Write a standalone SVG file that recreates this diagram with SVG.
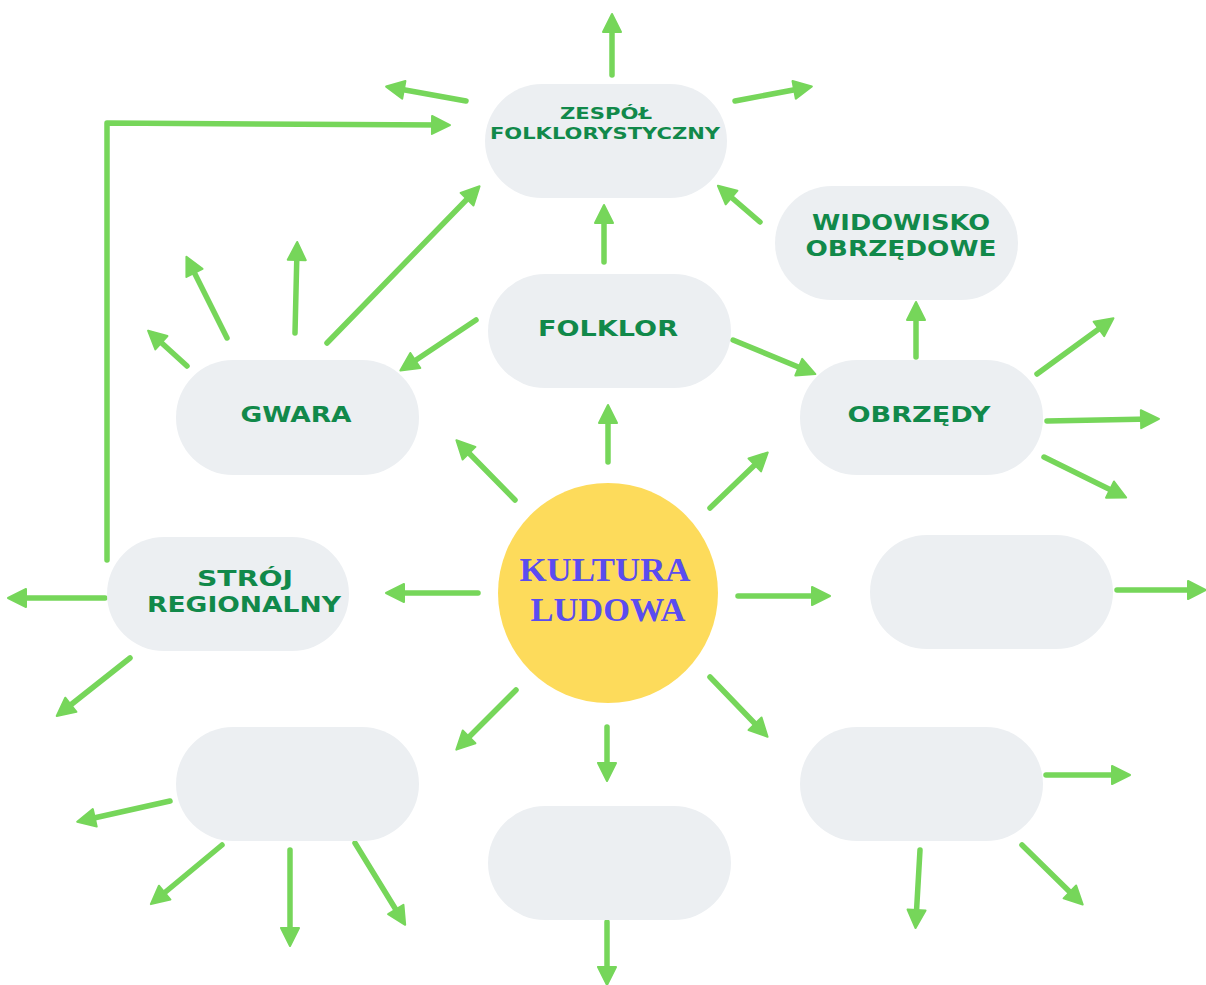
<svg xmlns="http://www.w3.org/2000/svg" width="1206" height="985" viewBox="0 0 1206 985">
<defs>
<marker id="ah" markerUnits="userSpaceOnUse" markerWidth="22" markerHeight="22" viewBox="-2 -2 22 22" refX="10" refY="9" orient="auto">
<path d="M0,0 L18,9 L0,18 Z" fill="#76d65a" stroke="#76d65a" stroke-width="2" stroke-linejoin="round"/>
</marker>
<style>
.pill{fill:#eceff2}
.lbl{font-family:"DejaVu Sans",sans-serif;font-weight:bold;fill:#11894a;text-anchor:middle}
.ctr{font-family:"Liberation Serif",serif;font-weight:bold;fill:#5a4cf0;text-anchor:middle;font-size:34px}
.c{stroke:#76d65a;stroke-width:5.5;fill:none;stroke-linecap:round;stroke-linejoin:round}
.a{marker-end:url(#ah)}
</style>
</defs>
<rect width="1206" height="985" fill="#ffffff"/>

<g id="connectors">
<line class="c a" x1="612" y1="75" x2="612" y2="22"/>
<line class="c a" x1="466" y1="101" x2="394" y2="88"/>
<line class="c a" x1="735" y1="101" x2="804" y2="88"/>
<polyline class="c a" points="107,560 107,123 442,125"/>
<line class="c a" x1="327" y1="343" x2="474" y2="192"/>
<line class="c a" x1="604" y1="262" x2="604" y2="213"/>
<line class="c a" x1="760" y1="222" x2="724" y2="191"/>
<line class="c a" x1="476" y1="320" x2="407" y2="366"/>
<line class="c a" x1="733" y1="340" x2="808" y2="371"/>
<line class="c a" x1="916" y1="357" x2="916" y2="310"/>
<line class="c a" x1="227" y1="338" x2="190" y2="264"/>
<line class="c a" x1="295" y1="333" x2="297" y2="250"/>
<line class="c a" x1="187" y1="366" x2="154" y2="336"/>
<line class="c a" x1="1037" y1="374" x2="1107" y2="323"/>
<line class="c a" x1="1047" y1="421" x2="1151" y2="419"/>
<line class="c a" x1="1044" y1="457" x2="1119" y2="494"/>
<line class="c a" x1="608" y1="462" x2="608" y2="413"/>
<line class="c a" x1="515" y1="500" x2="462" y2="446"/>
<line class="c a" x1="710" y1="508" x2="762" y2="458"/>
<line class="c a" x1="478" y1="593" x2="394" y2="593"/>
<line class="c a" x1="738" y1="596" x2="822" y2="596"/>
<line class="c a" x1="516" y1="690" x2="462" y2="744"/>
<line class="c a" x1="607" y1="727" x2="607" y2="773"/>
<line class="c a" x1="710" y1="677" x2="762" y2="731"/>
<line class="c a" x1="105" y1="598" x2="16" y2="598"/>
<line class="c a" x1="130" y1="658" x2="63" y2="711"/>
<line class="c a" x1="1117" y1="590" x2="1198" y2="590"/>
<line class="c a" x1="170" y1="801" x2="85" y2="820"/>
<line class="c a" x1="222" y1="845" x2="157" y2="899"/>
<line class="c a" x1="290" y1="850" x2="290" y2="938"/>
<line class="c a" x1="355" y1="843" x2="401" y2="918"/>
<line class="c a" x1="607" y1="922" x2="607" y2="977"/>
<line class="c a" x1="1046" y1="775" x2="1122" y2="775"/>
<line class="c a" x1="920" y1="850" x2="916" y2="920"/>
<line class="c a" x1="1022" y1="845" x2="1077" y2="899"/>
</g>

<g id="zespol">
<rect class="pill" x="485" y="84" width="242" height="114" rx="57"/>
<text class="lbl" x="606" y="119" font-size="16" textLength="92" lengthAdjust="spacingAndGlyphs">ZESPÓŁ</text>
<text class="lbl" x="605" y="139" font-size="16" textLength="230" lengthAdjust="spacingAndGlyphs">FOLKLORYSTYCZNY</text>
</g>
<g id="folklor">
<rect class="pill" x="488" y="274" width="243" height="114" rx="57"/>
<text class="lbl" x="608" y="336" font-size="21" textLength="140" lengthAdjust="spacingAndGlyphs">FOLKLOR</text>
</g>
<g id="widowisko">
<rect class="pill" x="775" y="186" width="243" height="114" rx="57"/>
<text class="lbl" x="901" y="230" font-size="21" textLength="178" lengthAdjust="spacingAndGlyphs">WIDOWISKO</text>
<text class="lbl" x="901" y="256" font-size="21" textLength="191" lengthAdjust="spacingAndGlyphs">OBRZĘDOWE</text>
</g>
<g id="gwara">
<rect class="pill" x="176" y="360" width="243" height="115" rx="57"/>
<text class="lbl" x="296" y="422" font-size="21" textLength="111" lengthAdjust="spacingAndGlyphs">GWARA</text>
</g>
<g id="obrzedy">
<rect class="pill" x="800" y="360" width="243" height="115" rx="57"/>
<text class="lbl" x="919" y="422" font-size="21" textLength="143" lengthAdjust="spacingAndGlyphs">OBRZĘDY</text>
</g>
<g id="stroj">
<rect class="pill" x="107" y="537" width="242" height="114" rx="57"/>
<text class="lbl" x="245" y="586" font-size="21" textLength="96" lengthAdjust="spacingAndGlyphs">STRÓJ</text>
<text class="lbl" x="244" y="612" font-size="21" textLength="194" lengthAdjust="spacingAndGlyphs">REGIONALNY</text>
</g>
<g id="empty-right">
<rect class="pill" x="870" y="535" width="243" height="114" rx="57"/>
</g>
<g id="empty-bottom-left">
<rect class="pill" x="176" y="727" width="243" height="114" rx="57"/>
</g>
<g id="empty-bottom-center">
<rect class="pill" x="488" y="806" width="243" height="114" rx="57"/>
</g>
<g id="empty-bottom-right">
<rect class="pill" x="800" y="727" width="243" height="114" rx="57"/>
</g>
<g id="kultura-ludowa">
<circle cx="608" cy="593" r="110" fill="#fddb5b"/>
<text class="ctr" x="605" y="581" textLength="171" lengthAdjust="spacingAndGlyphs">KULTURA</text>
<text class="ctr" x="608" y="621" textLength="155" lengthAdjust="spacingAndGlyphs">LUDOWA</text>
</g>
</svg>
